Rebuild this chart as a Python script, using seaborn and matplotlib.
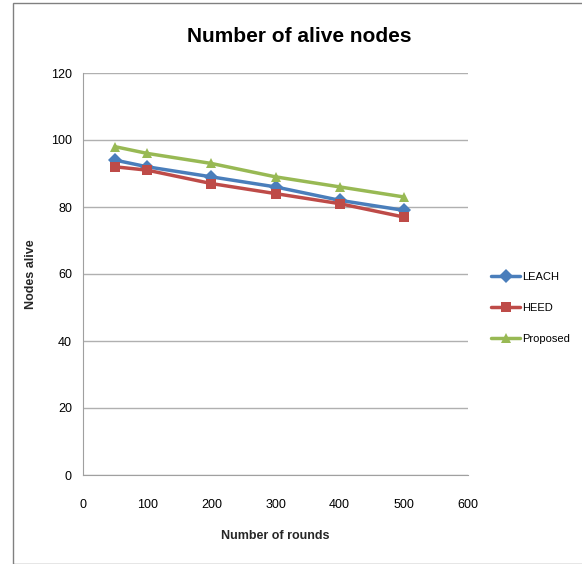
import pandas as pd
import numpy as np
import matplotlib.pyplot as plt
import seaborn as sns
from matplotlib.patches import Rectangle

rounds = [50, 100, 200, 300, 400, 500]
leach = [94, 92, 89, 86, 82, 79]
heed = [92, 91, 87, 84, 81, 77]
proposed = [98, 96, 93, 89, 86, 83]
series = ['LEACH', 'HEED', 'Proposed']
colors = ['#4A7EBB', '#BE4B48', '#98B954']
markers = ['D', 's', '^']

df = pd.DataFrame({'Rounds': rounds * 3,
                   'Nodes': leach + heed + proposed,
                   'Protocol': [s for s in series for _ in rounds]})

sns.set_style('white')
plt.rcParams['font.family'] = ['Liberation Sans', 'DejaVu Sans']
plt.rcParams['text.color'] = 'black'
plt.rcParams['xtick.color'] = 'black'
plt.rcParams['ytick.color'] = 'black'

fig = plt.figure(figsize=(5.82, 5.64), dpi=100)
ax = fig.add_axes([83/582, 1-475/564, (468-83)/582, (475-73)/564])

sns.lineplot(data=df, x='Rounds', y='Nodes', hue='Protocol', style='Protocol',
             palette=colors, markers=markers, dashes=False, linewidth=2.5,
             markersize=7, markeredgewidth=0, ax=ax)

ax.set_xlim(0, 600)
ax.set_ylim(0, 120)
ax.set_xticks(range(0, 601, 100))
ax.set_yticks(range(0, 121, 20))
ax.yaxis.grid(True, color='#b0b0b0', linewidth=1)
ax.set_axisbelow(True)
for s in ['top', 'right']:
    ax.spines[s].set_visible(False)
for s in ['left', 'bottom']:
    ax.spines[s].set_color('#a0a0a0')
ax.tick_params(axis='y', length=0, labelsize=9, pad=8)
ax.tick_params(axis='x', length=0, labelsize=9, pad=17)

ax.set_xlabel('Number of rounds', fontsize=9, fontweight='bold', labelpad=14)
ax.set_ylabel('Nodes alive', fontsize=9, fontweight='bold', labelpad=10)
fig.text(0.515, 1-36/564, 'Number of alive nodes', fontsize=15, fontweight='bold',
         ha='center', va='center')

ax.legend(loc='center left', bbox_to_anchor=(488/582, 1-308/564),
          bbox_transform=fig.transFigure, frameon=False, fontsize=8,
          handlelength=2.6, handletextpad=0.15, labelspacing=1.9,
          borderaxespad=0, borderpad=0.3)

fig.patches.append(Rectangle((13/582, 0), 1, 1-3/564, transform=fig.transFigure,
                             fill=False, edgecolor='#808080', linewidth=1))

plt.savefig('out.png', dpi=100)
